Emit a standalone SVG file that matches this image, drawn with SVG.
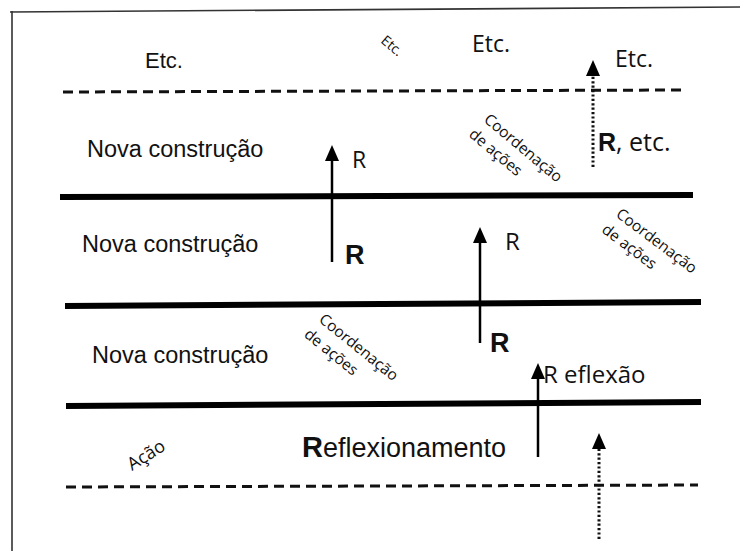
<svg xmlns="http://www.w3.org/2000/svg" width="740" height="551" viewBox="0 0 740 551">
  <style>
    .arial { font-family: "Liberation Sans", Arial, sans-serif; fill: #111; }
    .hum { font-family: "Open Sans", "Noto Sans", sans-serif; fill: #111; }
    .bold { font-weight: bold; }
    .frame { stroke: #333; stroke-width: 1.6; fill: none; }
    .level { stroke: #000; stroke-width: 6; fill: none; }
    .dash { stroke: #111; stroke-width: 3; stroke-dasharray: 10 6; fill: none; }
    .arrow { stroke: #000; stroke-width: 2.5; fill: none; marker-end: url(#head); }
    .dotted { stroke: #111; stroke-width: 3; stroke-dasharray: 2.2 2.2; fill: none; marker-end: url(#head); }
    .small { font-size: 15.5px; }
  </style>
  <defs>
    <marker id="head" markerUnits="userSpaceOnUse" markerWidth="16" markerHeight="16" viewBox="0 0 16 16" refX="8" refY="8" orient="auto">
      <path d="M0,1 L16,8 L0,15 z" fill="#000"/>
    </marker>
  </defs>
  <rect width="740" height="551" fill="#fff"/>

  <!-- outer frame -->
  <g id="frame">
    <line class="frame" x1="10" y1="12" x2="740" y2="7"/>
    <line class="frame" x1="12" y1="11" x2="12" y2="551"/>
  </g>

  <!-- level boundaries -->
  <g id="levels">
    <line class="dash" x1="63" y1="92" x2="682" y2="90"/>
    <line class="level" x1="60" y1="197" x2="693" y2="195"/>
    <line class="level" x1="65" y1="306" x2="701" y2="302"/>
    <line class="level" x1="66" y1="406" x2="701" y2="402"/>
    <line class="dash" x1="66" y1="487" x2="698" y2="485"/>
  </g>

  <!-- upward arrows -->
  <g id="connectors">
    <line class="arrow" x1="332" y1="262" x2="332" y2="153"/>
    <line class="arrow" x1="480" y1="343" x2="480" y2="235"/>
    <line class="arrow" x1="538" y1="457" x2="538" y2="371"/>
    <line class="dotted" x1="593" y1="167" x2="593" y2="68"/>
    <line class="dotted" x1="599" y1="539" x2="599" y2="441"/>
  </g>

  <g id="top-level">
    <text class="arial" x="145" y="68" font-size="22">Etc.</text>
    <text class="hum" font-size="14" transform="translate(380,42) rotate(40)">Etc.</text>
    <text class="hum" x="472" y="52" font-size="23">Etc.</text>
    <text class="hum" x="615" y="67" font-size="23">Etc.</text>
  </g>

  <g id="level-3">
    <text class="arial" x="87" y="157" font-size="23.5">Nova construção</text>
    <text class="hum" x="352" y="168" font-size="23">R</text>
    <text x="598" y="151" font-size="25"><tspan class="arial bold">R</tspan><tspan class="hum">, etc.</tspan></text>
    <g class="hum small" transform="translate(483,121) rotate(40)">
      <text x="0" y="0">Coordenação</text>
      <text x="-2" y="21">de ações</text>
    </g>
  </g>

  <g id="level-2">
    <text class="arial" x="82" y="252" font-size="23.5">Nova construção</text>
    <text class="arial bold" x="345" y="264" font-size="27">R</text>
    <text class="hum" x="505" y="250" font-size="24">R</text>
    <g class="hum small" transform="translate(615,216) rotate(37)">
      <text x="0" y="0">Coordenação</text>
      <text x="-2" y="21">de ações</text>
    </g>
  </g>

  <g id="level-1">
    <text class="arial" x="92" y="363" font-size="23.5">Nova construção</text>
    <g class="hum small" transform="translate(318,321) rotate(39)">
      <text x="0" y="0">Coordenação</text>
      <text x="-2" y="21">de ações</text>
    </g>
    <text class="arial bold" x="490" y="352" font-size="27">R</text>
    <text class="hum" x="543" y="383" font-size="24">R eflexão</text>
  </g>

  <g id="level-0">
    <text class="hum" font-size="18" transform="translate(132,471) rotate(-32)">Ação</text>
    <text x="302" y="457" class="arial"><tspan class="bold" font-size="29">R</tspan><tspan font-size="27">eflexionamento</tspan></text>
  </g>
</svg>
